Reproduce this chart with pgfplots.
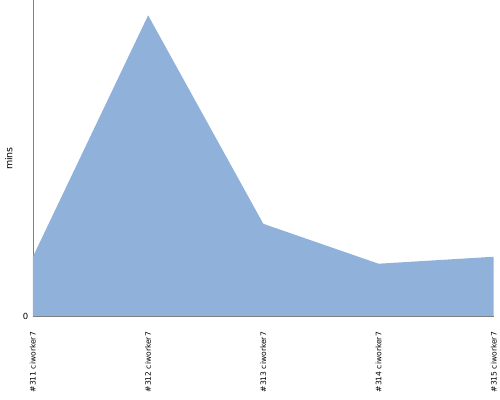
\documentclass[border=0pt]{standalone}
\usepackage{pgfplots}
\pgfplotsset{compat=1.18}
\usepackage{fontspec}
\setmainfont{DejaVu Sans}
\definecolor{areafill}{HTML}{8FB1DA}
\definecolor{axgrey}{HTML}{808080}
\begin{document}
\begin{tikzpicture}[x=1pt,y=1pt]
\begin{axis}[
  name=ax,
  scale only axis, width=462pt, height=317pt,
  xmin=0, xmax=4, ymin=0, ymax=317,
  axis x line*=bottom, axis y line*=left,
  axis line style={axgrey, line width=0.8pt},
  x axis line style={draw=none},
  xtick={0,1,2,3,4},
  xticklabels={{\#311 ciworker7},{\#312 ciworker7},{\#313 ciworker7},{\#314 ciworker7},{\#315 ciworker7}},
  xticklabel style={rotate=90, anchor=east, font=\fontsize{7.6}{8}\selectfont, xshift=-12pt},
  ytick={0}, yticklabel style={font=\fontsize{8.5}{9}\selectfont, xshift=-1pt},
  tick style={axgrey}, major tick length=4pt,
  xtick style={draw=none},
  ylabel={mins}, ylabel style={font=\fontsize{9.5}{10}\selectfont, at={(axis description cs:0,0.5)}, anchor=south, yshift=17pt},
  /pgf/number format/assume math mode=true,
  clip=false]
\addplot[draw=none, fill=areafill] coordinates {
 (0,60) (1,302) (2,93) (3,53) (4,60)} \closedcycle;
\draw[axgrey, line width=0.8pt] (axis cs:0,0) -- (axis cs:4,0);
\end{axis}
\path ([xshift=-33pt,yshift=-83pt]ax.south west) rectangle ([xshift=5pt]ax.north east);
\end{tikzpicture}
\end{document}
